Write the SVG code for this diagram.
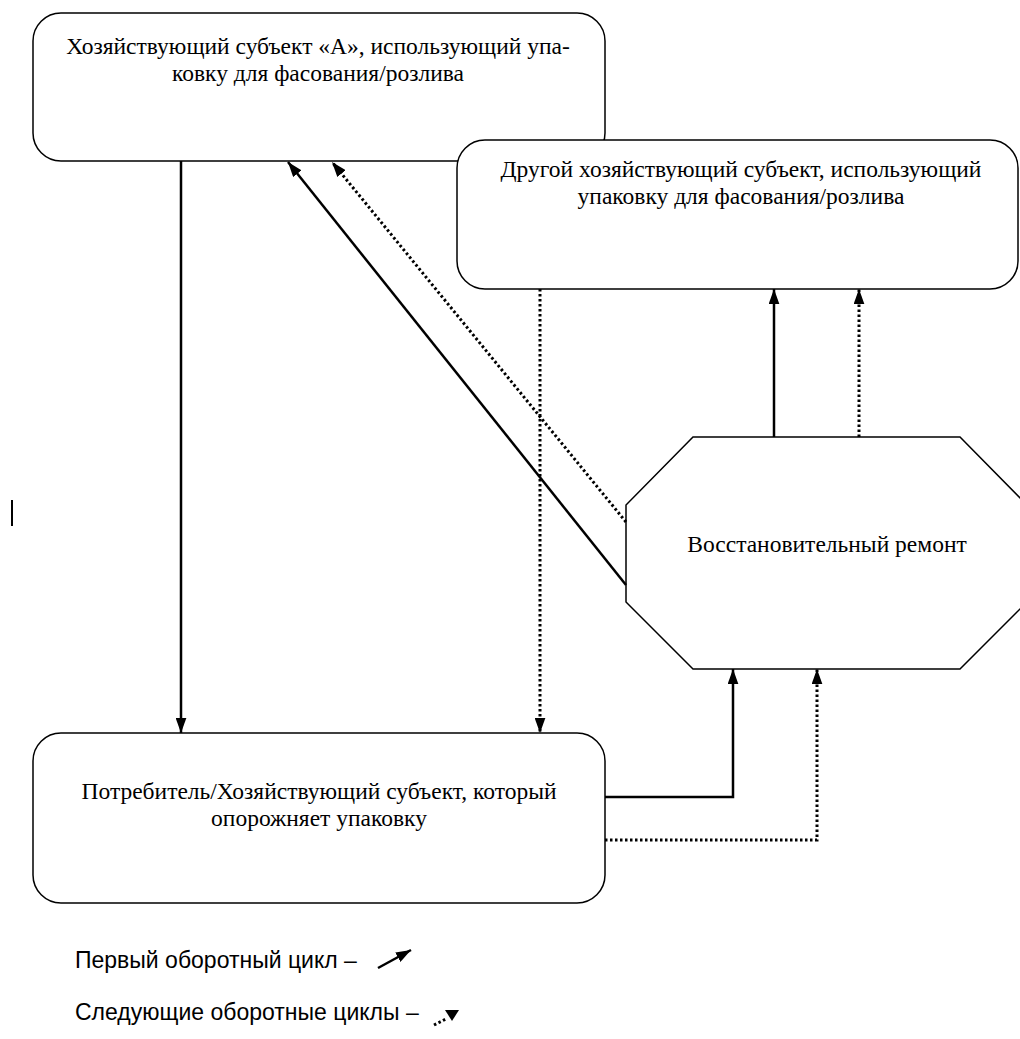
<svg xmlns="http://www.w3.org/2000/svg" width="1020" height="1039" viewBox="0 0 1020 1039">
<style>
.box{fill:#fff;stroke:#000;stroke-width:1.5}
.t{font-family:"Liberation Serif","Times New Roman",serif;font-size:23.5px;fill:#000;text-anchor:middle}
.lg{font-family:"Liberation Sans",Arial,sans-serif;font-size:23px;fill:#000}
.s{fill:none;stroke:#000;stroke-width:2.5}
.d{fill:none;stroke:#000;stroke-width:3;stroke-dasharray:2.5 2.5}
</style>
<defs>
<marker id="ah" viewBox="0 0 14 10" refX="14" refY="5" markerWidth="15" markerHeight="11" markerUnits="userSpaceOnUse" orient="auto">
<path d="M0,0 L14,5 L0,10 Z" fill="#000"/>
</marker>
</defs>
<rect width="1020" height="1039" fill="#fff"/>
<g id="nodeA">
<rect class="box" x="33" y="13" width="572" height="148" rx="28" ry="28"/>
<text class="t" x="318" y="54">Хозяйствующий субъект «А», использующий упа-</text>
<text class="t" x="318" y="81">ковку для фасования/розлива</text>
</g>
<g id="nodeB">
<rect class="box" x="457" y="140" width="561" height="149" rx="28" ry="28"/>
<text class="t" x="741" y="177">Другой хозяйствующий субъект, использующий</text>
<text class="t" x="741" y="204">упаковку для фасования/розлива</text>
</g>
<g id="nodeR">
<polygon class="box" points="693,437 960,437 1027,505 1027,602 960,669 693,669 626,602 626,505"/>
<text class="t" x="827" y="552">Восстановительный ремонт</text>
</g>
<g id="nodeC">
<rect class="box" x="33" y="733" width="572" height="170" rx="28" ry="28"/>
<text class="t" x="319" y="799">Потребитель/Хозяйствующий субъект, который</text>
<text class="t" x="319" y="826">опорожняет упаковку</text>
</g>
<g id="connectors">
<line class="s" x1="181" y1="161" x2="181" y2="733" marker-end="url(#ah)"/>
<line class="s" x1="626" y1="585" x2="288" y2="162" marker-end="url(#ah)"/>
<line class="d" x1="626" y1="522" x2="332" y2="162" marker-end="url(#ah)"/>
<line class="d" x1="540" y1="289" x2="540" y2="733" marker-end="url(#ah)"/>
<line class="s" x1="774" y1="437" x2="774" y2="289" marker-end="url(#ah)"/>
<line class="d" x1="859" y1="437" x2="859" y2="289" marker-end="url(#ah)"/>
<polyline class="s" points="605,797 733,797 733,669" marker-end="url(#ah)"/>
<polyline class="d" points="605,840 817,840 817,669" marker-end="url(#ah)"/>
</g>
<line x1="12" y1="500" x2="12" y2="526" stroke="#000" stroke-width="2"/>
<g id="legend">
<text class="lg" x="75" y="968">Первый оборотный цикл –</text>
<line class="s" x1="378" y1="968" x2="411" y2="950" marker-end="url(#ah)"/>
<text class="lg" x="75" y="1020">Следующие оборотные циклы –</text>
<line class="d" x1="434" y1="1025" x2="446" y2="1019"/>
<path d="M445,1010 L459,1010 L452,1021 Z" fill="#000"/>
</g>
</svg>
